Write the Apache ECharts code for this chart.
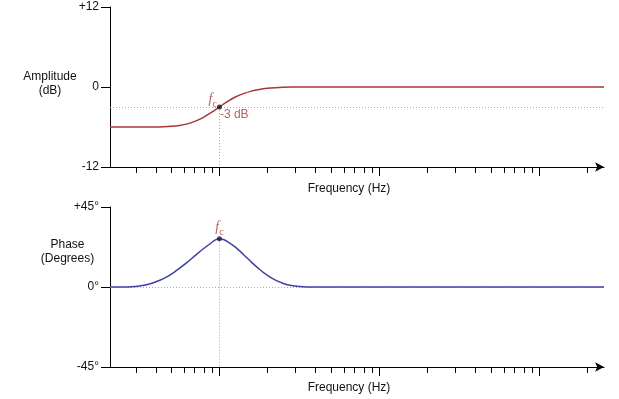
<!DOCTYPE html>
<html>
<head>
<meta charset="utf-8">
<script src="https://cdn.jsdelivr.net/npm/echarts@6/dist/echarts.min.js"></script>
<style>
html,body{margin:0;padding:0;background:#fff;}
#main{width:619px;height:399px;}
</style>
</head>
<body>
<div id="main"></div>
<script>
// ---- data ----
const freqMinHz = 207;
const freqMaxHz = 253800;
const minorTickHz = [300, 400, 500, 600, 700, 800, 900,
  2000, 3000, 4000, 5000, 6000, 7000, 8000, 9000,
  20000, 30000, 40000, 50000, 60000, 70000, 80000, 90000, 200000];
const majorTickHz = [1000, 10000, 100000];

const ampFreqHz = [207, 316, 355, 398, 447, 501, 562, 631, 708, 794, 891, 1000, 1122, 1259, 1413, 1585, 1778, 1995, 2239, 2512, 2818, 3162, 253800];
const ampDb     = [-6.0, -6.0, -6.0, -6.0, -5.97, -5.9, -5.77, -5.53, -5.12, -4.55, -3.82, -3.0, -2.2, -1.5, -1.0, -0.62, -0.37, -0.2, -0.1, -0.04, -0.01, 0, 0];

const phaseFreqHz = [207, 251, 282, 316, 355, 398, 447, 501, 562, 631, 708, 794, 891, 944, 1000, 1059, 1122, 1259, 1413, 1585, 1778, 1995, 2239, 2512, 2818, 3162, 3548, 3981, 253800];
const phaseDeg    = [0, 0, 0.15, 0.6, 1.4, 2.8, 4.7, 7.3, 10.5, 14.0, 17.8, 21.5, 24.9, 26.5, 27.2, 26.7, 25.5, 22.4, 18.3, 14.0, 10.0, 6.5, 3.9, 2.0, 0.8, 0.25, 0.05, 0, 0];

const fcHz = 1000;
const fcDb = -3;
const fcPhaseDeg = 27.2;

const ampAxisTicks = [-12, 0, 12];
const phaseAxisTicks = [-45, 0, 45];

const ampAxisTitle = ['Amplitude', '(dB)'];
const phaseAxisTitle = ['Phase', '(Degrees)'];
const xAxisTitle = 'Frequency (Hz)';
const cutoffLabel = '-3 dB';

// ---- build ----
const L = Math.log10;
const lxMin = L(freqMinHz), lxMax = L(freqMaxHz), lfc = L(fcHz);
const FONT = 'Liberation Sans';
const RED = '#a83636';
const BLUE = '#3f3fa6';
const GRIDLINE = '#aaaaaa';

function mainX(grid) {
  return {
    type: 'value', gridIndex: grid, min: lxMin, max: lxMax, position: 'bottom',
    axisLine: { show: true, onZero: false, lineStyle: { color: '#000', width: 1 }, symbol: ['none', 'arrow'], symbolSize: [7, 9] },
    axisTick: { show: true, length: 6, lineStyle: { color: '#000' }, customValues: minorTickHz.map(L) },
    axisLabel: { show: false },
    splitLine: { show: false }
  };
}
function majorX(grid) {
  return {
    type: 'value', gridIndex: grid, min: lxMin, max: lxMax, position: 'bottom',
    axisLine: { show: false, onZero: false },
    axisTick: { show: true, length: 9, lineStyle: { color: '#000' }, customValues: majorTickHz.map(L) },
    axisLabel: { show: false },
    splitLine: { show: false }
  };
}
function yAx(grid, ticks, fmt) {
  return {
    type: 'value', gridIndex: grid, min: ticks[0], max: ticks[ticks.length - 1], interval: ticks[1] - ticks[0],
    axisLine: { show: true, onZero: false, lineStyle: { color: '#000', width: 1 } },
    axisTick: { show: true, length: 9, lineStyle: { color: '#000' } },
    axisLabel: { margin: 11, color: '#111', fontFamily: FONT, fontSize: 12, formatter: fmt },
    splitLine: { show: false }
  };
}
const dotted = { color: GRIDLINE, type: [1, 2], width: 1 };
const fcRich = {
  f: { fontFamily: 'Liberation Serif', fontStyle: 'italic', fontSize: 14, color: RED, verticalAlign: 'top', lineHeight: 17 },
  c: { fontFamily: 'Liberation Serif', fontSize: 10, color: RED, verticalAlign: 'bottom', lineHeight: 17 }
};

function textEl(t, cx, cy) {
  return { type: 'text', x: cx, y: cy,
    style: { text: t, fill: '#111', font: '12px ' + FONT, textAlign: 'center', textVerticalAlign: 'middle' } };
}

const option = {
  animation: false,
  backgroundColor: '#fff',
  grid: [
    { left: 110, top: 7, width: 494, height: 160 },
    { left: 110, top: 207, width: 494, height: 160 }
  ],
  xAxis: [mainX(0), majorX(0), mainX(1), majorX(1)],
  yAxis: [
    yAx(0, ampAxisTicks, v => v > 0 ? '+' + v : String(v)),
    yAx(1, phaseAxisTicks, v => (v > 0 ? '+' + v : String(v)) + '°')
  ],
  graphic: [
    textEl(ampAxisTitle[0], 50, 77),
    textEl(ampAxisTitle[1], 50, 90.5),
    textEl(phaseAxisTitle[0], 67.5, 245),
    textEl(phaseAxisTitle[1], 67.5, 258.5),
    textEl(xAxisTitle, 349, 189),
    textEl(xAxisTitle, 349, 388)
  ],
  series: [
    {
      type: 'line', xAxisIndex: 0, yAxisIndex: 0, showSymbol: false, symbol: 'none',
      smooth: 0.3,
      lineStyle: { color: RED, width: 1.5 }, itemStyle: { color: RED },
      data: ampFreqHz.map((f, i) => [L(f), ampDb[i]]),
      markLine: {
        silent: true, symbol: 'none', label: { show: false }, lineStyle: dotted, z: 1,
        data: [
          [{ coord: [lxMin, fcDb] }, { coord: [lxMax, fcDb] }],
          [{ coord: [lfc, fcDb] }, { coord: [lfc, ampAxisTicks[0]] }]
        ]
      },
      z: 3
    },
    {
      type: 'scatter', xAxisIndex: 0, yAxisIndex: 0, symbolSize: 5, itemStyle: { color: '#111' }, z: 5,
      data: [[lfc, fcDb]],
      label: { show: true, position: [0, 5], align: 'right', verticalAlign: 'bottom', formatter: '{f|f}{c|c}', rich: fcRich }
    },
    {
      type: 'scatter', xAxisIndex: 0, yAxisIndex: 0, symbolSize: 1, itemStyle: { color: 'rgba(0,0,0,0)' }, z: 5,
      data: [[lfc, fcDb]],
      label: { show: true, position: [1, 8.5], align: 'left', verticalAlign: 'middle', formatter: cutoffLabel, color: RED, fontFamily: FONT, fontSize: 12 }
    },
    {
      type: 'line', xAxisIndex: 2, yAxisIndex: 1, showSymbol: false, symbol: 'none',
      smooth: 0.3,
      lineStyle: { color: BLUE, width: 1.5 }, itemStyle: { color: BLUE },
      data: phaseFreqHz.map((f, i) => [L(f), phaseDeg[i]]),
      markLine: {
        silent: true, symbol: 'none', label: { show: false }, lineStyle: dotted, z: 1,
        data: [
          [{ coord: [lxMin, 0] }, { coord: [lxMax, 0] }],
          [{ coord: [lfc, fcPhaseDeg] }, { coord: [lfc, phaseAxisTicks[0]] }]
        ]
      },
      z: 3
    },
    {
      type: 'scatter', xAxisIndex: 2, yAxisIndex: 1, symbolSize: 5, itemStyle: { color: '#1a1a55' }, z: 5,
      data: [[lfc, fcPhaseDeg]],
      label: { show: true, position: [2.5, 1], align: 'center', verticalAlign: 'bottom', formatter: '{f|f}{c|c}', rich: fcRich }
    }
  ]
};
const chart = echarts.init(document.getElementById('main'), null, { renderer: 'canvas' });
chart.setOption(option);
</script>
</body>
</html>
